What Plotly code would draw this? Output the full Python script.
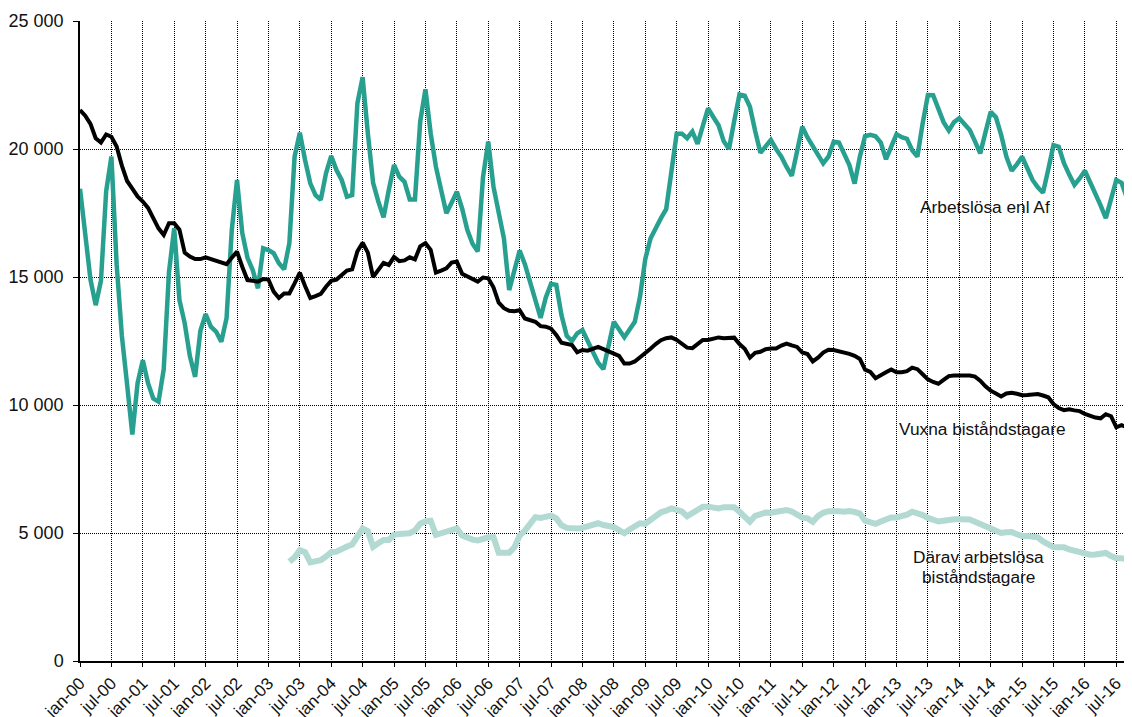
import plotly.graph_objects as go

COLOR_AF = "#28A090"
COLOR_VUXNA = "#000000"
COLOR_DARAV = "#B3D9D3"
FONT = "Liberation Sans, Arial, sans-serif"

MONTH_NAMES = ["jan", "feb", "mar", "apr", "maj", "jun", "jul", "aug", "sep", "okt", "nov", "dec"]
YEARS = list(range(2000, 2017))
N_MONTHS = 202  # jan-00 .. okt-16
MONTHS = [f"{MONTH_NAMES[i % 12]}-{YEARS[i // 12] % 100:02d}" for i in range(N_MONTHS)]

TICK_LABELS = [
    "jan-00", "jul-00", "jan-01", "jul-01", "jan-02", "jul-02", "jan-03", "jul-03",
    "jan-04", "jul-04", "jan-05", "jul-05", "jan-06", "jul-06", "jan-07", "jul-07",
    "jan-08", "jul-08", "jan-09", "jul-09", "jan-10", "jul-10", "jan-11", "jul-11",
    "jan-12", "jul-12", "jan-13", "jul-13", "jan-14", "jul-14", "jan-15", "jul-15",
    "jan-16", "jul-16",
]

# Arbetslösa enl Af
ARBETSLOSA_AF = [
    18450, 16700, 14900, 13900, 14850, 18350, 19700, 15500, 12700, 10800, 8850, 10850,
    11750, 10850, 10250, 10130, 11400, 15200, 16900, 14100, 13200, 11900, 11100, 12900,
    13550, 13060, 12870, 12470, 13390, 16840, 18790, 16720, 15750, 15270, 14560, 16120,
    16050, 15930, 15540, 15300, 16320, 19700, 20640, 19570, 18660, 18200, 18010, 19050,
    19730, 19180, 18790, 18140, 18200, 21790, 22800, 20610, 18680, 17950, 17330, 18400,
    19380, 18920, 18720, 18030, 18030, 21070, 22330, 20610, 19310, 18400, 17490, 17900,
    18330, 17680, 16840, 16300, 16000, 18900, 20290, 18530, 17400, 16500, 14490, 15300,
    16030, 15500, 14800, 14000, 13400, 14200, 14730, 14690, 13500, 12700, 12500, 12800,
    12930, 12500, 12100, 11650, 11400, 12300, 13250, 12950, 12650, 12950, 13250, 14230,
    15700, 16500, 16950, 17300, 17650, 19200, 20600, 20600, 20420, 20680, 20200, 20900,
    21590, 21250, 20930, 20300, 20000, 21100, 22130, 22080, 21650, 20700, 19850, 20100,
    20350, 20000, 19700, 19300, 18950, 19900, 20870, 20450, 20100, 19750, 19440, 19700,
    20280, 20250, 19800, 19370, 18650, 19700, 20500, 20550, 20500, 20250, 19600, 20100,
    20580, 20460, 20400, 19950, 19700, 21000, 22110, 22100, 21600, 21050, 20720, 21050,
    21200, 20950, 20740, 20300, 19830, 20650, 21450, 21240, 20550, 19700, 19150, 19400,
    19700, 19250, 18790, 18500, 18290, 19200, 20150, 20090, 19450, 19000, 18600, 18850,
    19150, 18700, 18270, 17800, 17300, 18050, 18790, 18680, 18100, 17800,
]

# Vuxna biståndstagare
VUXNA = [
    21520, 21300, 20980, 20420, 20250, 20570, 20480, 20100, 19350, 18750, 18450, 18150,
    17950, 17700, 17300, 16900, 16640, 17100, 17100, 16850, 15950, 15800, 15700, 15700,
    15770, 15700, 15640, 15550, 15500, 15750, 15990, 15400, 14880, 14850, 14820, 14920,
    14900, 14430, 14180, 14360, 14360, 14750, 15170, 14650, 14180, 14250, 14340, 14620,
    14850, 14900, 15100, 15250, 15300, 16000, 16340, 15950, 15000, 15300, 15550, 15470,
    15780, 15620, 15650, 15770, 15690, 16200, 16320, 16060, 15170, 15250, 15340, 15560,
    15600, 15130, 15040, 14950, 14820, 14980, 14950, 14600, 14000, 13780, 13680, 13660,
    13700, 13380, 13320, 13250, 13080, 13060, 12980, 12740, 12430, 12370, 12340, 12060,
    12150, 12120, 12200, 12270, 12180, 12100, 11990, 11920, 11620, 11620, 11700, 11860,
    12000, 12200, 12380, 12530, 12610, 12640, 12540, 12400, 12240, 12220, 12380, 12540,
    12540, 12580, 12640, 12610, 12620, 12630, 12380, 12200, 11850, 12040, 12080, 12180,
    12210, 12210, 12320, 12400, 12330, 12270, 12050, 11990, 11700, 11850, 12050, 12160,
    12150, 12110, 12060, 12000, 11920, 11800, 11380, 11290, 11050, 11180, 11280, 11390,
    11280, 11280, 11320, 11460, 11400, 11200, 11000, 10900, 10830, 10980, 11130, 11150,
    11160, 11160, 11150, 11110, 10950, 10730, 10560, 10450, 10330, 10450, 10480, 10440,
    10380, 10390, 10400, 10430, 10370, 10300, 10040, 9880, 9800, 9830, 9790, 9760,
    9650, 9560, 9510, 9480, 9640, 9560, 9130, 9210, 9130, 9130,
]

# Därav arbetslösa biståndstagare (series starts maj-03)
DARAV_START = 40
DARAV = [
    3880, 4050, 4330, 4250, 3850, 3880, 3940, 4080,
    4250, 4270, 4400, 4470, 4550, 4900, 5170, 5070, 4460, 4600, 4730, 4730,
    4930, 4960, 4990, 4990, 5100, 5360, 5450, 5480, 4930, 4990, 5050, 5120,
    5180, 4900, 4800, 4740, 4710, 4800, 4830, 4830, 4230, 4230, 4230, 4440,
    4900, 5090, 5350, 5620, 5590, 5650, 5680, 5570, 5300, 5200, 5180, 5180,
    5200, 5250, 5320, 5380, 5310, 5290, 5230, 5110, 4990, 5140, 5290, 5380,
    5360, 5530, 5710, 5810, 5870, 5960, 5900, 5840, 5650, 5770, 5910, 6030,
    6030, 6000, 5960, 6010, 6030, 6010, 5830, 5620, 5440, 5670, 5760, 5800,
    5790, 5820, 5900, 5900, 5840, 5720, 5600, 5575, 5440, 5660, 5790, 5850,
    5870, 5850, 5830, 5860, 5820, 5760, 5480, 5400, 5355, 5450, 5550, 5610,
    5610, 5650, 5720, 5830, 5780, 5700, 5590, 5510, 5450, 5480, 5530, 5534,
    5534, 5534, 5530, 5440, 5360, 5250, 5170, 5090, 5000, 5030, 5040, 4950,
    4880, 4880, 4860, 4830, 4670, 4550, 4450, 4440, 4440, 4360, 4300, 4250,
    4200, 4150, 4160, 4180, 4220, 4100, 4010, 4010, 3980, 3945,
]

Y_TICKS = [0, 5000, 10000, 15000, 20000, 25000]

fig = go.Figure()

fig.add_trace(go.Scatter(
    x=MONTHS[DARAV_START:DARAV_START + len(DARAV)],
    y=DARAV,
    mode="lines",
    line=dict(color=COLOR_DARAV, width=6),
    name="Därav arbetslösa biståndstagare",
))
fig.add_trace(go.Scatter(
    x=MONTHS[:len(ARBETSLOSA_AF)],
    y=ARBETSLOSA_AF,
    mode="lines",
    line=dict(color=COLOR_AF, width=4.5),
    name="Arbetslösa enl Af",
))
fig.add_trace(go.Scatter(
    x=MONTHS[:len(VUXNA)],
    y=VUXNA,
    mode="lines",
    line=dict(color=COLOR_VUXNA, width=4),
    name="Vuxna biståndstagare",
))

# series labels; x is the month index on the category axis
labels = [
    (173.0, 17750, "Arbetslösa enl Af"),
    (172.5, 9060, "Vuxna biståndstagare"),
    (171.6, 4060, "Därav arbetslösa"),
    (171.6, 3280, "biståndstagare"),
]
for xpos, yval, text in labels:
    fig.add_annotation(
        x=xpos, y=yval, text=text, showarrow=False,
        font=dict(family=FONT, size=17.3, color="#111111"),
        xanchor="center", yanchor="middle",
    )

# the page body adds an 8px margin, so the figure is shrunk to fit the window
fig.update_layout(
    width=1124,
    height=709,
    paper_bgcolor="white",
    plot_bgcolor="white",
    showlegend=False,
    separators=", ",
    margin=dict(l=72, r=0, t=13, b=56, autoexpand=False),
    font=dict(family=FONT, size=18, color="#111111"),
)
fig.update_xaxes(
    type="category",
    categoryorder="array",
    categoryarray=MONTHS,
    range=[0, N_MONTHS - 1],
    tickmode="array",
    tickvals=TICK_LABELS,
    ticktext=TICK_LABELS,
    tickangle=-45,
    tickfont=dict(family=FONT, size=17, color="#111111"),
    ticks="outside",
    ticklen=4,
    tickcolor="black",
    showgrid=True,
    gridcolor="black",
    gridwidth=1,
    griddash="1px,1px",
    showline=True,
    linecolor="black",
    linewidth=1.5,
    zeroline=False,
    automargin=False,
)
fig.update_yaxes(
    range=[0, 25000],
    tickmode="array",
    tickvals=Y_TICKS,
    tickformat=",d",
    tickfont=dict(family=FONT, size=18, color="#111111"),
    ticks="outside",
    ticklen=5,
    tickcolor="black",
    ticklabelstandoff=6,
    showgrid=True,
    gridcolor="black",
    gridwidth=1,
    griddash="1px,1px",
    showline=True,
    linecolor="black",
    linewidth=1.5,
    zeroline=False,
    automargin=False,
)

fig.write_html("out.html")
